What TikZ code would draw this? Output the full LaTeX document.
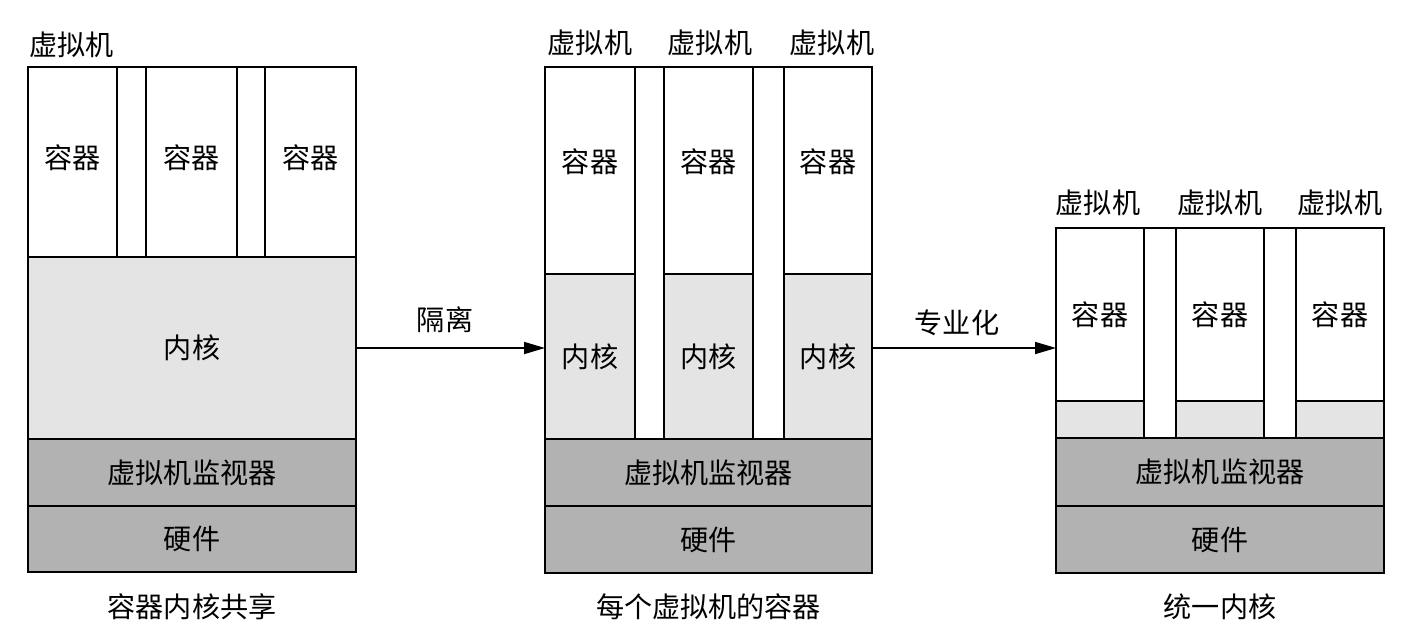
\documentclass[tikz,border=0pt]{standalone}
\usepackage{fontspec}
\setmainfont{Noto Sans CJK SC}
\usetikzlibrary{arrows.meta,positioning}
\definecolor{kerngray}{RGB}{228,228,228}
\definecolor{hvgray}{RGB}{178,178,178}

\begin{document}
\begin{tikzpicture}[x=0.02cm,y=-0.02cm,font=\fontsize{16pt}{19pt}\selectfont,
  box/.style={draw,line width=1.5pt,outer sep=0pt,inner sep=0pt,align=center},
  ctr/.style={box,fill=white,minimum height=#1},
  kern/.style={box,fill=kerngray,minimum height=#1},
  hv/.style={box,fill=hvgray}]
\useasboundingbox (0,0) rectangle (1415,633);
% left: containers share one kernel
\draw[line width=1.5pt,fill=white] (28,67) rectangle (356,572);
\node[ctr=3.8cm,minimum width=1.78cm,text depth=0.23cm] (lc1) at (72.5,162) {容器};
\node[ctr=3.8cm,minimum width=1.82cm,text depth=0.23cm] (lc2) at (191.5,162) {容器};
\node[ctr=3.8cm,minimum width=1.82cm,text depth=0.23cm] (lc3) at (310.5,162) {容器};
\node[kern=3.64cm,minimum width=6.56cm] (lk) at (192,348) {内核};
\node[hv,minimum width=6.56cm,minimum height=1.34cm] (lh) at (192,472.5) {虚拟机监视器};
\node[hv,minimum width=6.56cm,minimum height=1.32cm] (lw) at (192,539) {硬件};
\node (lv) at (71.5,45) {虚拟机};
\node (lcap) at (192,607) {容器内核共享};
% middle: one container per vm
\draw[line width=1.5pt,fill=white] (545,67) rectangle (872,572);
\node[ctr=4.14cm,minimum width=1.80cm,text depth=0.39cm] (mc1) at (590,170.5) {容器};
\node[ctr=4.14cm,minimum width=1.78cm,text depth=0.39cm] (mc2) at (708.5,170.5) {容器};
\node[ctr=4.14cm,minimum width=1.76cm,text depth=0.39cm] (mc3) at (828,170.5) {容器};
\node[kern=3.30cm,minimum width=1.80cm] (mk1) at (590,356.5) {内核};
\node[kern=3.30cm,minimum width=1.78cm] (mk2) at (708.5,356.5) {内核};
\node[kern=3.30cm,minimum width=1.76cm] (mk3) at (828,356.5) {内核};
\node[hv,minimum width=6.54cm,minimum height=1.34cm] (mh) at (708.5,472.5) {虚拟机监视器};
\node[hv,minimum width=6.54cm,minimum height=1.34cm] (mw) at (708.5,539.5) {硬件};
\node (mv1) at (590,43) {虚拟机};
\node (mv2) at (710,43) {虚拟机};
\node (mv3) at (832,43) {虚拟机};
\node (mcap) at (708.5,607) {每个虚拟机的容器};
% right: unified kernel
\draw[line width=1.5pt,fill=white] (1056,228) rectangle (1384,573);
\node[ctr=3.46cm,minimum width=1.76cm] (rc1) at (1100,314.5) {容器};
\node[ctr=3.46cm,minimum width=1.76cm] (rc2) at (1220,314.5) {容器};
\node[ctr=3.46cm,minimum width=1.76cm] (rc3) at (1340,314.5) {容器};
\node[kern=0.74cm,minimum width=1.76cm] (rk1) at (1100,419.5) {};
\node[kern=0.74cm,minimum width=1.76cm] (rk2) at (1220,419.5) {};
\node[kern=0.74cm,minimum width=1.76cm] (rk3) at (1340,419.5) {};
\node[hv,minimum width=6.56cm,minimum height=1.36cm] (rh) at (1220,472) {虚拟机监视器};
\node[hv,minimum width=6.56cm,minimum height=1.34cm] (rw) at (1220,539.5) {硬件};
\node (rv1) at (1098,203) {虚拟机};
\node (rv2) at (1220,203) {虚拟机};
\node (rv3) at (1340,203) {虚拟机};
\node (rcap) at (1220,607) {统一内核};
% arrows
\draw[line width=1pt,-{Triangle[length=0.42cm,width=0.24cm]}] (lk.east) -- (lk.east -| mk1.west);
\draw[line width=1pt,-{Triangle[length=0.42cm,width=0.24cm]}] (lk.east -| mk3.east) -- (lk.east -| rc1.west);
\node (iso) at (445,320) {隔离};
\node (spec) at (957,323) {专业化};
\end{tikzpicture}
\end{document}
